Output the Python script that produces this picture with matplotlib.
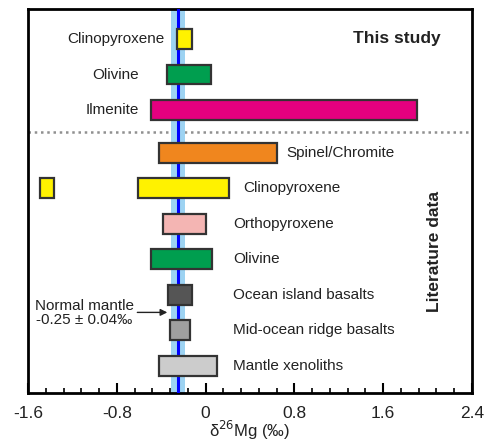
import matplotlib
matplotlib.use("Agg")
import matplotlib.pyplot as plt
from matplotlib.patches import Rectangle
from matplotlib.ticker import MultipleLocator

plt.rcParams['font.family'] = ['Liberation Sans', 'DejaVu Sans']

# ---- data ----
labels = ["Clinopyroxene", "Olivine", "Ilmenite",
          "Spinel/Chromite", "Clinopyroxene", "Orthopyroxene", "Olivine",
          "Ocean island basalts", "Mid-ocean ridge basalts", "Mantle xenoliths"]
lows = [-0.26, -0.35, -0.495, -0.42, -0.61, -0.38, -0.49, -0.34, -0.32, -0.42]
highs = [-0.125, 0.045, 1.90, 0.645, 0.215, 0.0, 0.055, -0.125, -0.14, 0.105]
colors = ["#FFF200", "#009E4F", "#E4007F", "#F0861E", "#FFF200", "#F4B5B3",
          "#009E4F", "#555555", "#A0A0A0", "#CCCCCC"]
rows = [0, 1, 2, 3.2, 4.2, 5.2, 6.2, 7.2, 8.2, 9.2]
extra_low, extra_high, extra_row = -1.49, -1.37, 4.2
label_x = [-0.37, -0.60, -0.60, 0.73, 0.335, 0.245, 0.245, 0.245, 0.245, 0.245]
label_side = ["left", "left", "left", "right", "right", "right", "right",
              "right", "right", "right"]
mantle_mean, mantle_band = -0.25, 0.06
xticks = [-1.6, -0.8, 0, 0.8, 1.6, 2.4]
xtick_labels = ["-1.6", "-0.8", "0", "0.8", "1.6", "2.4"]

fig = plt.figure(figsize=(4.88, 4.43), dpi=100)
ax = fig.add_axes([28/488, 1-393/443, (472-28)/488, (393-9)/443])

ax.set_xlim(-1.6, 2.4)
ax.set_ylim(9.97, -0.845)

h = 0.56
# separator
ax.axhline(2.62, color="#909090", lw=1.8, ls=(0, (1, 1.5)), zorder=1)
# band and mean line
ax.axvspan(mantle_mean - mantle_band, mantle_mean + mantle_band,
           color="#9DD3F2", lw=0, zorder=2)
ax.axvline(mantle_mean, color="#0000FF", lw=2.2, zorder=3)

for lo, hi, c, r in zip(lows, highs, colors, rows):
    ax.add_patch(Rectangle((lo, r - h/2), hi - lo, h, facecolor=c,
                           edgecolor="#333333", lw=1.6, zorder=4))
ax.add_patch(Rectangle((extra_low, extra_row - h/2), extra_high - extra_low, h,
                       facecolor=colors[4], edgecolor="#333333", lw=1.6, zorder=4))

for lab, lx, side, r in zip(labels, label_x, label_side, rows):
    ha = "right" if side == "left" else "left"
    ax.text(lx, r, lab, ha=ha, va="center", fontsize=11, color="#222222")

ax.text(2.12, -0.02, "This study", ha="right", va="center", fontsize=12.5,
        fontweight="bold", color="#222222")
ax.text(2.06, 5.99, "Literature data", ha="center", va="center", fontsize=12.5,
        fontweight="bold", rotation=90, color="#222222")

ax.annotate("", xy=(-0.32, 7.7), xytext=(-0.64, 7.7),
            arrowprops=dict(arrowstyle="-|>", color="#222222", lw=1.0,
                            mutation_scale=10), zorder=5)
ax.text(-1.09, 7.72, "Normal mantle\n-0.25 ± 0.04‰", ha="center", va="center",
        fontsize=11, color="#222222", linespacing=1.0)

ax.set_xticks(xticks)
ax.set_xticklabels(xtick_labels)
ax.xaxis.set_minor_locator(MultipleLocator(0.16))
ax.set_yticks([])
ax.tick_params(axis="x", which="major", direction="in", length=7, width=1.5,
               labelsize=12.5, pad=9, top=False, labelcolor="#222222")
ax.tick_params(axis="x", which="minor", direction="in", length=3.5, width=1.2,
               top=False)
for s in ax.spines.values():
    s.set_linewidth(2)
ax.set_xlabel("δ$^{26}$Mg (‰)", fontsize=12, labelpad=-1, color="#222222")

fig.savefig("out.png", dpi=100)
